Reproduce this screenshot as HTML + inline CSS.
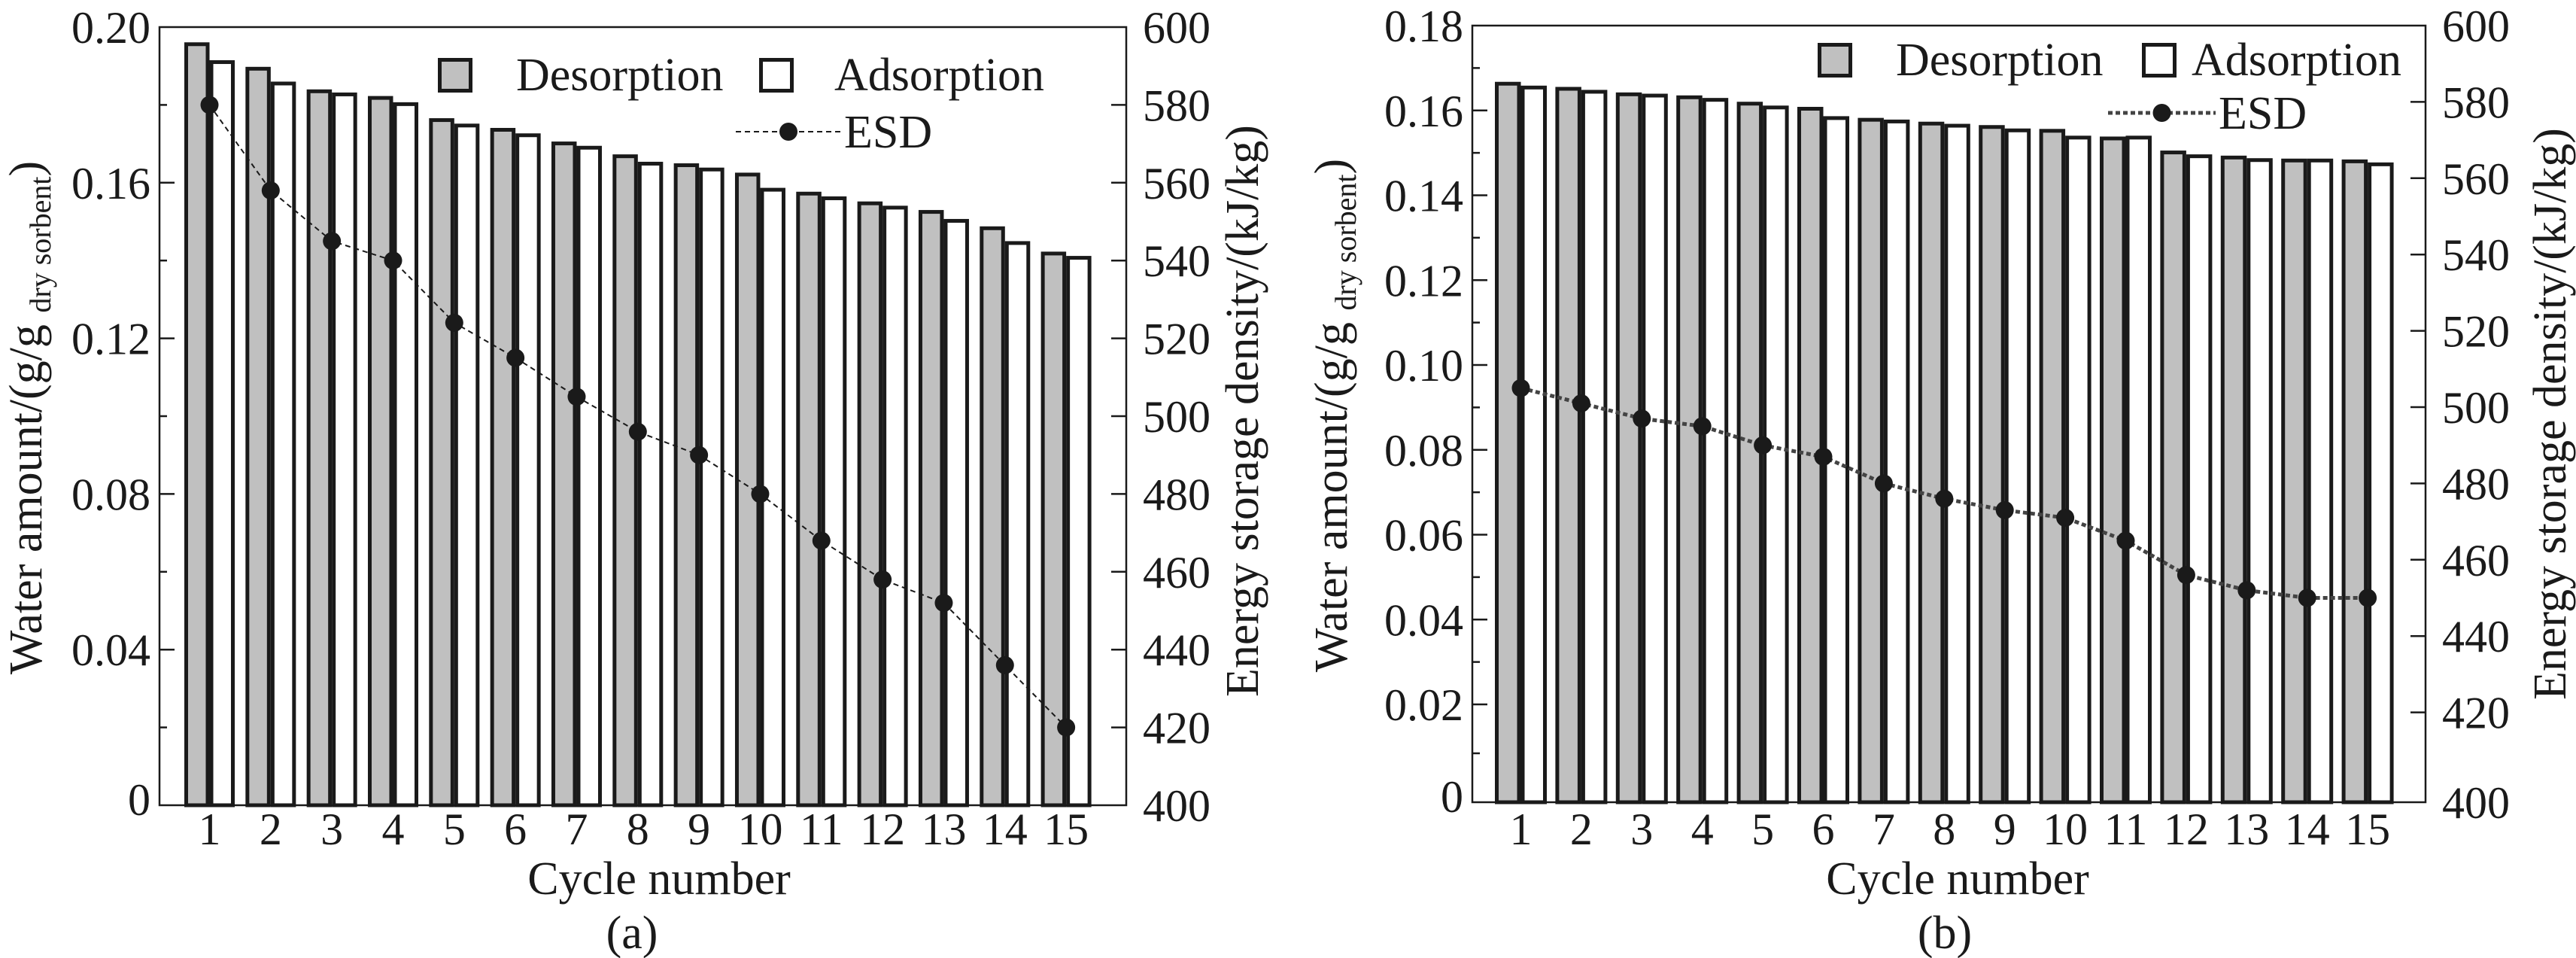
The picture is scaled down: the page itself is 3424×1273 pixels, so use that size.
<!DOCTYPE html>
<html><head><meta charset="utf-8"><style>
html,body{margin:0;padding:0;background:#fff;}
svg{display:block;}
text{font-family:"Liberation Serif","Times New Roman","DejaVu Serif",serif;}
</style></head><body>
<svg id="chart" width="3424" height="1273" viewBox="0 0 3424 1273" xmlns="http://www.w3.org/2000/svg" font-family="Liberation Serif, Times New Roman, serif"></svg>
<script>
const categories = [1,2,3,4,5,6,7,8,9,10,11,12,13,14,15];
const aDesorption = [0.1956,0.1893,0.1835,0.1818,0.1761,0.1736,0.1701,0.1668,0.1645,0.1621,0.1572,0.1547,0.1525,0.1483,0.1418];
const aAdsorption = [0.1910,0.1855,0.1827,0.1802,0.1747,0.1722,0.1690,0.1649,0.1634,0.1582,0.1560,0.1536,0.1502,0.1445,0.1407];
const aEsd = [580,558,545,540,524,515,505,496,490,480,468,458,452,436,420];
const bDesorption = [0.1663,0.1651,0.1638,0.1631,0.1616,0.1604,0.1578,0.1569,0.1561,0.1552,0.1534,0.1501,0.1489,0.1482,0.1480];
const bAdsorption = [0.1654,0.1644,0.1635,0.1625,0.1607,0.1582,0.1574,0.1564,0.1553,0.1536,0.1536,0.1492,0.1483,0.1482,0.1473];
const bEsd = [505,501,497,495,490,487,480,476,473,471,465,456,452,450,450];
const aLeftTicks = [0,0.04,0.08,0.12,0.16,0.20];
const aLeftTickLabels = ["0","0.04","0.08","0.12","0.16","0.20"];
const bLeftTicks = [0,0.02,0.04,0.06,0.08,0.10,0.12,0.14,0.16,0.18];
const bLeftTickLabels = ["0","0.02","0.04","0.06","0.08","0.10","0.12","0.14","0.16","0.18"];
const rightTicks = [400,420,440,460,480,500,520,540,560,580,600];
const rightTickLabels = ["400","420","440","460","480","500","520","540","560","580","600"];

const NS = "http://www.w3.org/2000/svg";
const svg = document.getElementById('chart');
const FONT = '"Liberation Serif", "Times New Roman", serif';
function mk(tag, attrs, parent){
  const e = document.createElementNS(NS, tag);
  for (const k in attrs) e.setAttribute(k, attrs[k]);
  if (tag === 'text') e.style.fontFamily = FONT;
  (parent||svg).appendChild(e);
  return e;
}
const INK = "#1a1a1a";

function drawPanel(p){
  const g = mk('g', {});
  
  
  categories.forEach((c, i) => {
    const gx = p.start + i * p.pitch;
    const yb = p.bottom;
    const yd = p.yL(p.des[i]);
    const ya = p.yL(p.ads[i]);
    const ra = mk('rect', {x: gx + p.bw + 2.5, y: ya, width: p.bw - 5, height: yb - ya, fill: '#fff', stroke: INK, 'stroke-width': 5}, g);
    
    
    const rd = mk('rect', {x: gx + 2.5, y: yd, width: p.bw - 5, height: yb - yd, fill: '#c0c0c0', stroke: INK, 'stroke-width': 5}, g);
    
    
    const t = mk('text', {x: gx + p.bw, y: 1122, 'font-size': 60, 'text-anchor': 'middle', fill: INK}, g);
    t.textContent = String(c);
    
    
  });
  const pts = categories.map((c, i) => (p.start + i * p.pitch + p.bw) + ',' + p.yR(p.esd[i])).join(' ');
  const line = mk('polyline', {points: pts, fill: 'none', stroke: p.lineColor, 'stroke-width': p.lineW, 'stroke-dasharray': p.dash}, g);
  
  
  categories.forEach((c, i) => {
    const d = mk('ellipse', {cx: p.start + i * p.pitch + p.bw, cy: p.yR(p.esd[i]), rx: 12, ry: 12, fill: INK}, g);
    
    
  });
  const fr = mk('rect', {x: p.left, y: p.top, width: p.right - p.left, height: p.bottom - p.top, fill: 'none', stroke: INK, 'stroke-width': 2.5}, g);
  
  
  p.leftTicks.forEach((v, i) => {
    const y = p.yL(v);
    if (i > 0 && i < p.leftTicks.length - 1) mk('line', {x1: p.left, x2: p.left + 20, y1: y, y2: y, stroke: INK, 'stroke-width': 2.5}, g);
    if (i < p.leftTicks.length - 1) {
      const ym = p.yL((v + p.leftTicks[i + 1]) / 2);
      mk('line', {x1: p.left, x2: p.left + 10, y1: ym, y2: ym, stroke: INK, 'stroke-width': 2.5}, g);
    }
    const t = mk('text', {x: p.left - 12, y: (i === 0 ? y - 8 : y) + 21, 'font-size': 60, 'text-anchor': 'end', fill: INK}, g);
    t.textContent = p.leftTickLabels[i];
    
    
  });
  rightTicks.forEach((v, i) => {
    const y = p.yR(v);
    if (i > 0 && i < rightTicks.length - 1) mk('line', {x1: p.right - 20, x2: p.right, y1: y, y2: y, stroke: INK, 'stroke-width': 2.5}, g);
    const t = mk('text', {x: p.right + 22, y: y + 21, 'font-size': 60, fill: INK}, g);
    t.textContent = rightTickLabels[i];
    
    
  });
  const xt = mk('text', {x: p.xTitleX, y: 1188, 'font-size': 62, 'text-anchor': 'middle', fill: INK}, g);
  xt.textContent = 'Cycle number';
  
  
  const cap = mk('text', {x: p.capX, y: 1260, 'font-size': 62, 'text-anchor': 'middle', fill: INK}, g);
  cap.textContent = p.caption;
  
  
  const yl = mk('text', {transform: 'translate(' + p.ylX + ',' + p.ylY + ') rotate(-90)', 'font-size': 62, 'text-anchor': 'middle', fill: INK}, g);
  yl.innerHTML = 'Water amount/(g/g <tspan font-size="40" dy="12">dry sorbent</tspan><tspan dy="-12">)</tspan>';
  
  
  const yr = mk('text', {transform: 'translate(' + p.yrX + ',' + p.yrY + ') rotate(-90)', 'font-size': 62, 'text-anchor': 'middle', fill: INK}, g);
  yr.textContent = 'Energy storage density/(kJ/kg)';
  
  
  const L = p.legend;
  const lg = mk('g', {}, g);
  
  
  mk('rect', {x: L.dx + 2.5, y: L.by + 2.5, width: 41, height: 41, fill: '#c0c0c0', stroke: INK, 'stroke-width': 5}, lg);
  const t1 = mk('text', {x: L.dtx, y: L.by + 43, 'font-size': 62, fill: INK}, lg); t1.textContent = 'Desorption';
  
  
  mk('rect', {x: L.ax + 2.5, y: L.by + 2.5, width: 41, height: 41, fill: '#fff', stroke: INK, 'stroke-width': 5}, lg);
  const t2 = mk('text', {x: L.atx, y: L.by + 43, 'font-size': 62, fill: INK}, lg); t2.textContent = 'Adsorption';
  
  
  mk('line', {x1: L.lx1, x2: L.lx2, y1: L.ly, y2: L.ly, stroke: p.lineColor, 'stroke-width': p.lineW, 'stroke-dasharray': p.dash}, lg);
  mk('ellipse', {cx: (L.lx1 + L.lx2) / 2, cy: L.ly, rx: 12, ry: 12, fill: INK}, lg);
  const t3 = mk('text', {x: L.lx2 + 4, y: L.ly + 21, 'font-size': 62, fill: INK}, lg); t3.textContent = 'ESD';
  
  
}

drawPanel({
  name: 'panel-a', left: 212, right: 1497, top: 36, bottom: 1070,
  start: 245, pitch: 81.33, bw: 33.5,
  des: aDesorption, ads: aAdsorption, esd: aEsd,
  yL: v => 1070 - v / 0.2 * 1034,
  yR: v => 1070 - (v - 400) / 200 * 1034,
  leftTicks: aLeftTicks, leftTickLabels: aLeftTickLabels,
  lineColor: INK, lineW: 2, dash: '7 5',
  xTitleX: 876, capX: 840, caption: '(a)',
  ylX: 55, ylY: 555, yrX: 1672, yrY: 546,
  legend: {dx: 582, by: 77, dtx: 686, ax: 1009, atx: 1109, lx1: 978, lx2: 1118, ly: 175}
});
drawPanel({
  name: 'panel-b', left: 1957, right: 3224, top: 34, bottom: 1066,
  start: 1987, pitch: 80.4, bw: 34.5,
  des: bDesorption, ads: bAdsorption, esd: bEsd,
  yL: v => v >= 0.02 ? 34 + (0.18 - v) / 0.02 * 112.75 : 1066 - v / 0.02 * 130,
  yR: v => v >= 420 ? 34 + (600 - v) / 20 * 101.4 : 1066 - (v - 400) / 20 * 119,
  leftTicks: bLeftTicks, leftTickLabels: bLeftTickLabels,
  lineColor: '#444', lineW: 5, dash: '6 4',
  xTitleX: 2602, capX: 2585, caption: '(b)',
  ylX: 1790, ylY: 552, yrX: 3410, yrY: 550,
  legend: {dx: 2416, by: 57, dtx: 2520, ax: 2847, atx: 2913, lx1: 2802, lx2: 2945, ly: 150}
});
</script>
</body></html>
